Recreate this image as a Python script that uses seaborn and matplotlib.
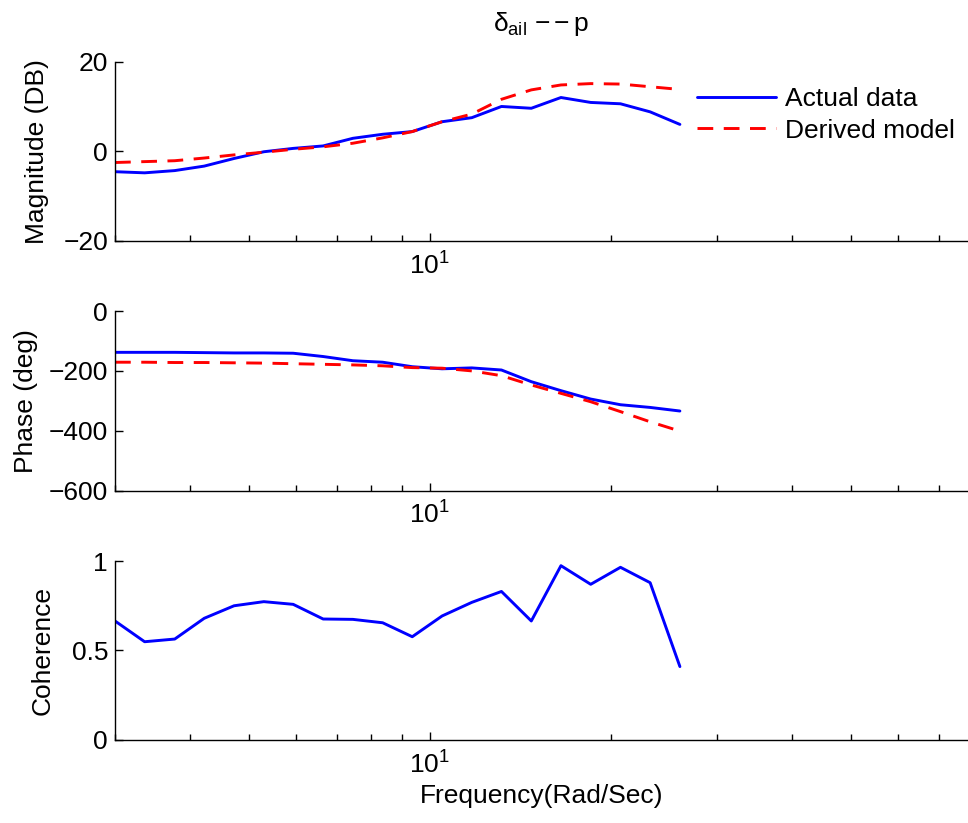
import numpy as np
import pandas as pd
import matplotlib
matplotlib.use("Agg")
import matplotlib.pyplot as plt
from matplotlib.ticker import LogLocator, NullFormatter, FixedLocator, FixedFormatter
import seaborn as sns

# Frequency grid (rad/s)
freq = [3.00, 3.36, 3.77, 4.22, 4.73, 5.30, 5.93, 6.65, 7.45, 8.35,
        9.35, 10.48, 11.74, 13.15, 14.74, 16.51, 18.50, 20.73, 23.22, 26.02]

# Magnitude (dB)
mag_actual = [-4.55, -4.8, -4.3, -3.3, -1.6, -0.1, 0.65, 1.2, 2.9, 3.8,
              4.4, 6.6, 7.5, 10.0, 9.6, 12.0, 10.9, 10.6, 8.8, 6.0]
mag_model = [-2.5, -2.3, -2.1, -1.5, -0.8, -0.2, 0.45, 1.0, 1.8, 3.0,
             4.4, 6.6, 8.3, 11.6, 13.7, 14.8, 15.1, 15.0, 14.4, 13.8]

# Phase (deg)
phase_actual = [-138, -138, -138, -139, -140, -140, -141, -152, -166, -171,
                -186, -193, -190, -197, -236, -266, -294, -313, -322, -334]
phase_model = [-171, -171, -172, -172, -173, -174, -176, -178, -180, -183,
               -189, -191, -200, -216, -247, -275, -303, -336, -370, -401]

# Coherence
coherence = [0.665, 0.549, 0.564, 0.68, 0.75, 0.773, 0.758, 0.676, 0.674, 0.655,
             0.577, 0.693, 0.769, 0.83, 0.665, 0.974, 0.87, 0.965, 0.879, 0.41]

labels = ["Actual data", "Derived model"]

FS = 19

sns.set_style("white")
plt.rcParams["font.family"] = ["Liberation Sans", "DejaVu Sans"]
plt.rcParams["mathtext.fontset"] = "custom"
plt.rcParams["mathtext.rm"] = "Liberation Sans"
plt.rcParams["mathtext.it"] = "Liberation Sans"
plt.rcParams["font.size"] = FS
plt.rcParams["text.color"] = "black"
plt.rcParams["axes.labelcolor"] = "black"
plt.rcParams["xtick.color"] = "black"
plt.rcParams["ytick.color"] = "black"

blue = "#0000ff"
red = "#ff0000"

mag_df = pd.DataFrame({
    "freq": freq * 2,
    "value": mag_actual + mag_model,
    "series": [labels[0]] * len(freq) + [labels[1]] * len(freq),
})
phase_df = pd.DataFrame({
    "freq": freq * 2,
    "value": phase_actual + phase_model,
    "series": [labels[0]] * len(freq) + [labels[1]] * len(freq),
})
coh_df = pd.DataFrame({"freq": freq, "value": coherence})

fig = plt.figure(figsize=(9.68, 8.23), dpi=100)
left, width = 0.1188, 0.8812
ax1 = fig.add_axes([left, 0.7072, width, 0.2179])
ax2 = fig.add_axes([left, 0.4038, width, 0.2183])
ax3 = fig.add_axes([left, 0.1009, width, 0.2174])

palette = {labels[0]: blue, labels[1]: red}
dashes = {labels[0]: "", labels[1]: (5.4, 3.6)}

sns.lineplot(data=mag_df, x="freq", y="value", hue="series", style="series",
             palette=palette, dashes=dashes, linewidth=2.1, ax=ax1,
             sort=False, estimator=None)
sns.lineplot(data=phase_df, x="freq", y="value", hue="series", style="series",
             palette=palette, dashes=dashes, linewidth=2.1, ax=ax2,
             sort=False, estimator=None, legend=False)
sns.lineplot(data=coh_df, x="freq", y="value", color=blue, linewidth=2.1,
             ax=ax3, sort=False, estimator=None)

ax1.set_ylim(-20, 20)
ax1.set_yticks([-20, 0, 20])
ax1.set_ylabel("Magnitude (DB)", labelpad=10)
ax2.set_ylim(-600, 0)
ax2.set_yticks([-600, -400, -200, 0])
ax2.set_ylabel("Phase (deg)", labelpad=8)
ax3.set_ylim(0, 1)
ax3.yaxis.set_major_locator(FixedLocator([0, 0.5, 1]))
ax3.yaxis.set_major_formatter(FixedFormatter(["0", "0.5", "1"]))
ax3.set_ylabel("Coherence", labelpad=12)
ax3.set_xlabel("Frequency(Rad/Sec)", labelpad=4)

for ax in (ax1, ax2, ax3):
    ax.set_xscale("log")
    ax.set_xlim(3, 78.3)
    ax.xaxis.set_major_locator(LogLocator(base=10))
    ax.xaxis.set_minor_locator(LogLocator(base=10, subs=np.arange(2, 10)))
    ax.xaxis.set_minor_formatter(NullFormatter())
    if ax is not ax3:
        ax.set_xlabel("")
    for s in ("top", "right"):
        ax.spines[s].set_visible(False)
    for s in ("left", "bottom"):
        ax.spines[s].set_color("black")
        ax.spines[s].set_linewidth(1.0)
    ax.tick_params(axis="both", which="both", bottom=True, left=True,
                   top=False, right=False)
    ax.tick_params(axis="both", which="major", direction="in", length=6,
                   width=1.0, color="black", labelcolor="black",
                   labelsize=FS, pad=5)
    ax.tick_params(axis="x", which="major", pad=8)
    ax.tick_params(axis="x", which="minor", direction="in", length=4.5,
                   width=1.0, color="black")
    ax.yaxis.label.set_size(FS)
    ax.xaxis.label.set_size(FS)

ax1.set_title(r"$\delta_{ail}$ $\mathregular{-- p}$", fontsize=FS, pad=22,
              color="black")

leg = ax1.legend(loc="upper left", bbox_to_anchor=(0.682, 0.86),
                 frameon=False, borderpad=0, borderaxespad=0,
                 handlelength=3.0, handletextpad=0.34, labelspacing=0.3,
                 fontsize=FS)
for t in leg.get_texts():
    t.set_color("black")

fig.savefig("out.png", dpi=100)
